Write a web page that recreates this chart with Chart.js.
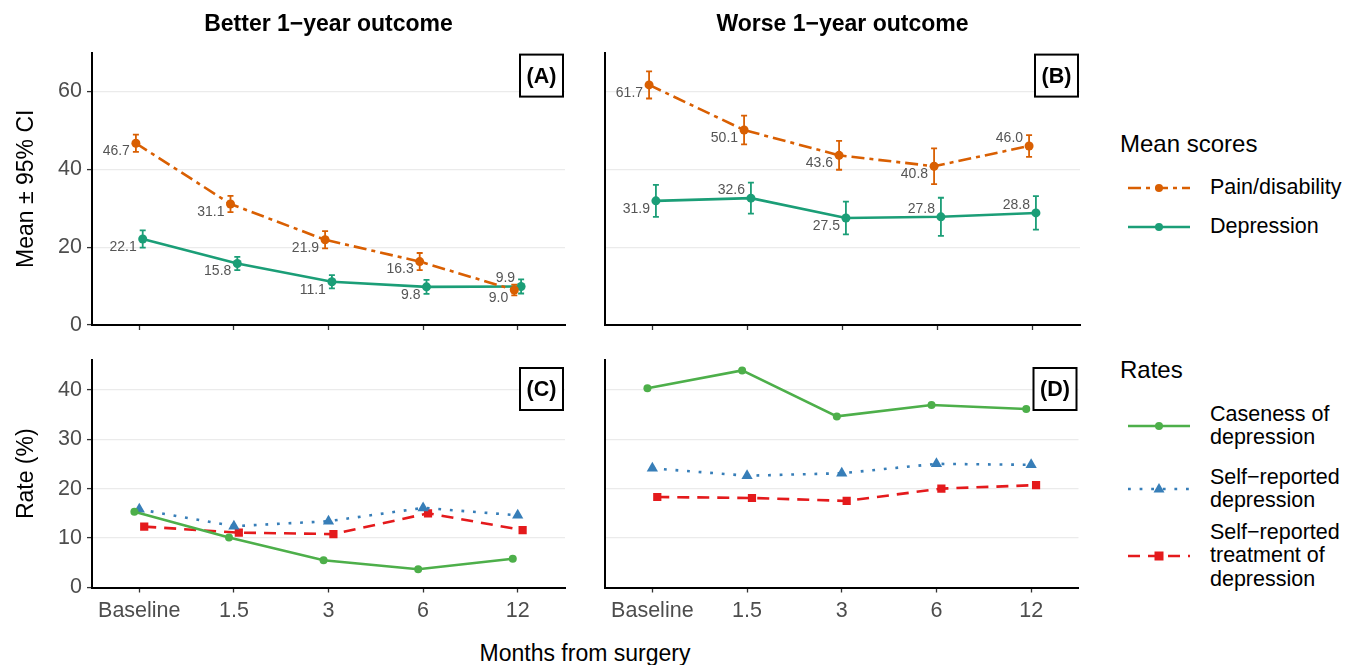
<!DOCTYPE html>
<html>
<head>
<meta charset="utf-8">
<script src="https://cdn.jsdelivr.net/npm/chart.js@4.4.1/dist/chart.umd.min.js"></script>
<style>
  body { margin: 0; background: #fff; width: 1345px; height: 665px; position: relative; overflow: hidden;
         font-family: "Liberation Sans", Arial, Helvetica, sans-serif; }
  canvas { position: absolute; }
  .txt { position: absolute; white-space: nowrap; color: #000; }
  .lgTitle { font-size: 24px; }
  .lgItem { font-size: 21.5px; line-height: 23.3px; }
  .lgKey { position: absolute; }
</style>
</head>
<body>
<canvas id="panelA" width="572" height="345" style="left:0;top:0"></canvas>
<canvas id="panelB" width="510" height="345" style="left:575px;top:0"></canvas>
<canvas id="panelC" width="572" height="292" style="left:0;top:340px"></canvas>
<canvas id="panelD" width="510" height="292" style="left:575px;top:340px"></canvas>

<div class="txt" id="xTitle" style="font-size:23px;left:0;width:1170px;text-align:center;top:640px">Months from surgery</div>

<div id="legend"></div>

<script>
// categories
const months = ["Baseline", "1.5", "3", "6", "12"];
const monthPos = [1, 2, 3, 4, 5];
const meanTicks = [0, 20, 40, 60];
const rateTicks = [0, 10, 20, 30, 40];

// (A) better outcome, mean scores and 95% CI half widths
const painBetter = [46.7, 31.1, 21.9, 16.3, 9.0];
const painBetterCI = [2.2, 2.1, 2.2, 2.2, 1.4];
const deprBetter = [22.1, 15.8, 11.1, 9.8, 9.9];
const deprBetterCI = [2.2, 1.7, 1.7, 1.8, 1.8];

// (B) worse outcome
const painWorse = [61.7, 50.1, 43.6, 40.8, 46.0];
const painWorseCI = [3.5, 3.7, 3.7, 4.6, 2.8];
const deprWorse = [31.9, 32.6, 27.5, 27.8, 28.8];
const deprWorseCI = [4.1, 4.0, 4.2, 4.9, 4.3];

// (C) better outcome, rates (%)
const casenessBetter = [15.3, 10.1, 5.5, 3.7, 5.8];
const selfDepBetter = [15.8, 12.4, 13.4, 16.1, 14.6];
const treatBetter = [12.3, 11.1, 10.8, 15.0, 11.6];

// (D) worse outcome, rates (%)
const casenessWorse = [40.3, 43.9, 34.6, 36.9, 36.1];
const selfDepWorse = [24.1, 22.6, 23.1, 25.0, 24.8];
const treatWorse = [18.3, 18.1, 17.5, 20.0, 20.7];

const FONT = '"Liberation Sans", Arial, Helvetica, sans-serif';
Chart.defaults.font.family = FONT;

const COL = {
  pain: "#d95f02",
  depr: "#1b9e77",
  case: "#4daf4a",
  self: "#377eb8",
  treat: "#e41a1c"
};
const DASH = {
  pain: [13, 5, 4, 5],
  self: [2.8, 8.8],
  treat: [12, 8]
};

function pts(values, dodge) {
  return values.map((v, i) => ({ x: monthPos[i] + dodge, y: v }));
}

function lineSet(values, dodge, color, extra) {
  return Object.assign({
    data: pts(values, dodge),
    borderColor: color,
    backgroundColor: color,
    pointBorderColor: color,
    pointBackgroundColor: color,
    borderWidth: 2.6,
    pointRadius: 4.5,
    pointBorderWidth: 0,
    tension: 0,
    fill: false
  }, extra || {});
}

// error bars from the ci arrays
const errorBars = {
  id: "errorBars",
  afterDatasetsDraw(chart) {
    const { ctx } = chart;
    const y = chart.scales.y;
    chart.data.datasets.forEach((ds, di) => {
      if (!ds.ci) return;
      const meta = chart.getDatasetMeta(di);
      ctx.save();
      ctx.strokeStyle = ds.borderColor;
      ctx.lineWidth = 1.8;
      ctx.setLineDash([]);
      meta.data.forEach((pt, i) => {
        const v = ds.data[i].y;
        const top = y.getPixelForValue(v + ds.ci[i]);
        const bot = y.getPixelForValue(v - ds.ci[i]);
        ctx.beginPath();
        ctx.moveTo(pt.x, top); ctx.lineTo(pt.x, bot);
        ctx.moveTo(pt.x - 3, top); ctx.lineTo(pt.x + 3, top);
        ctx.moveTo(pt.x - 3, bot); ctx.lineTo(pt.x + 3, bot);
        ctx.stroke();
      });
      ctx.restore();
    });
  }
};

// numeric labels next to mean points
const valueLabels = {
  id: "valueLabels",
  afterDatasetsDraw(chart) {
    const { ctx } = chart;
    chart.data.datasets.forEach((ds, di) => {
      if (!ds.labelSides) return;
      const meta = chart.getDatasetMeta(di);
      ctx.save();
      ctx.font = "14px " + FONT;
      ctx.fillStyle = "#555555";
      ctx.textAlign = "right";
      ctx.textBaseline = "middle";
      meta.data.forEach((pt, i) => {
        const dy = ds.labelSides[i] === "above" ? -8 : 8;
        ctx.fillText(ds.data[i].y.toFixed(1), pt.x - 6, pt.y + dy);
      });
      ctx.restore();
    });
  }
};

// boxed (A)/(B)/... tag in the top right corner
const panelTag = {
  id: "panelTag",
  afterDraw(chart, args, opts) {
    if (!opts.text) return;
    const { ctx, chartArea } = chart;
    const w = 43, h = 42;
    const x = chartArea.right - 2 - w;
    const y = chartArea.top + opts.inset;
    ctx.save();
    ctx.fillStyle = "#fff";
    ctx.fillRect(x, y, w, h);
    ctx.strokeStyle = "#000";
    ctx.lineWidth = 2;
    ctx.strokeRect(x, y, w, h);
    ctx.fillStyle = "#000";
    ctx.font = "bold 21.5px " + FONT;
    ctx.textAlign = "center";
    ctx.textBaseline = "middle";
    ctx.fillText(opts.text, x + w / 2, y + h / 2 + 1);
    ctx.restore();
  }
};

function makePanel(id, cfg) {
  return new Chart(document.getElementById(id), {
    type: "line",
    data: { datasets: cfg.datasets },
    options: {
      responsive: false,
      animation: false,
      events: [],
      layout: { padding: cfg.padding },
      plugins: {
        legend: { display: false },
        tooltip: { enabled: false },
        title: cfg.title
          ? { display: true, text: cfg.title, color: "#000", fullSize: false,
              font: { size: 23, weight: "bold" }, padding: { top: 11, bottom: 14 } }
          : { display: false },
        panelTag: { text: cfg.tag, inset: cfg.tagInset }
      },
      scales: {
        x: {
          type: "linear",
          min: 0.5,
          max: 5.5,
          afterBuildTicks: s => { s.ticks = monthPos.map(v => ({ value: v })); },
          afterFit: s => { s.height = cfg.xHeight; },
          border: { display: true, color: "#000", width: 2 },
          grid: { drawOnChartArea: false, drawTicks: true, tickLength: 5,
                  tickColor: "#333333", tickWidth: 1.3 },
          ticks: {
            display: cfg.showX,
            autoSkip: false,
            maxRotation: 0,
            color: "#4d4d4d",
            font: { size: 21.5 },
            padding: 6,
            callback: v => months[monthPos.indexOf(v)]
          }
        },
        y: {
          type: "linear",
          min: cfg.yMin,
          max: cfg.yMax,
          afterBuildTicks: s => { s.ticks = cfg.yTicks.map(v => ({ value: v })); },
          afterFit: s => { s.width = cfg.yWidth; },
          border: { display: true, color: "#000", width: 2 },
          grid: { color: "#ebebeb", lineWidth: 1.2, drawTicks: cfg.showY, tickLength: 5,
                  tickColor: "#333333", tickWidth: 1.3 },
          ticks: { display: cfg.showY, color: "#4d4d4d", font: { size: 21.5 }, padding: 5 },
          title: cfg.yTitle
            ? { display: true, text: cfg.yTitle, color: "#000", font: { size: 23 },
                padding: { top: 13, bottom: 0 } }
            : { display: false }
        }
      }
    },
    plugins: [errorBars, valueLabels, panelTag]
  });
}

const meanDodge = 0.036;
const rateDodge = 0.052;

makePanel("panelA", {
  title: "Better 1\u2212year outcome",
  tag: "(A)", tagInset: 2,
  yTitle: "Mean \u00b1 95% CI",
  yMin: 0, yMax: 70, yTicks: meanTicks, yWidth: 92, showY: true,
  xHeight: 20, showX: false,
  padding: { right: 7 },
  datasets: [
    lineSet(painBetter, -meanDodge, COL.pain, { borderDash: DASH.pain, ci: painBetterCI,
      labelSides: ["below", "below", "below", "below", "below"] }),
    lineSet(deprBetter, meanDodge, COL.depr, { ci: deprBetterCI,
      labelSides: ["below", "below", "below", "below", "above"] })
  ]
});

makePanel("panelB", {
  title: "Worse 1\u2212year outcome",
  tag: "(B)", tagInset: 2,
  yMin: 0, yMax: 70, yTicks: meanTicks, yWidth: 30, showY: false,
  xHeight: 20, showX: false,
  padding: { right: 5 },
  datasets: [
    lineSet(painWorse, -meanDodge, COL.pain, { borderDash: DASH.pain, ci: painWorseCI,
      labelSides: ["below", "below", "below", "below", "above"] }),
    lineSet(deprWorse, meanDodge, COL.depr, { ci: deprWorseCI,
      labelSides: ["below", "above", "below", "above", "above"] })
  ]
});

function rateSets(caseness, selfDep, treat) {
  return [
    lineSet(caseness, -rateDodge, COL.case, { pointRadius: 4 }),
    lineSet(selfDep, 0, COL.self, { borderDash: DASH.self, pointStyle: "triangle", pointRadius: 6.5 }),
    lineSet(treat, rateDodge, COL.treat, { borderDash: DASH.treat, pointStyle: "rect", pointRadius: 5.8 })
  ];
}

makePanel("panelC", {
  tag: "(C)", tagInset: 8,
  yTitle: "Rate (%)",
  yMin: 0, yMax: 46, yTicks: rateTicks, yWidth: 92, showY: true,
  xHeight: 44.5, showX: true,
  padding: { top: 20, right: 7 },
  datasets: rateSets(casenessBetter, selfDepBetter, treatBetter)
});

makePanel("panelD", {
  tag: "(D)", tagInset: 8,
  yMin: 0, yMax: 46, yTicks: rateTicks, yWidth: 30, showY: false,
  xHeight: 44.5, showX: true,
  padding: { top: 20, right: 5 },
  datasets: rateSets(casenessWorse, selfDepWorse, treatWorse)
});

// legend (HTML text, SVG keys)
const legendGroups = [
  { title: "Mean scores", top: 130, items: [
    { lines: ["Pain/disability"], color: COL.pain, dash: DASH.pain, marker: "circle", keyY: 188 },
    { lines: ["Depression"], color: COL.depr, dash: null, marker: "circle", keyY: 227 }
  ]},
  { title: "Rates", top: 356, items: [
    { lines: ["Caseness of", "depression"], color: COL.case, dash: null, marker: "circle", keyY: 426 },
    { lines: ["Self\u2212reported", "depression"], color: COL.self, dash: DASH.self, marker: "triangle", keyY: 489 },
    { lines: ["Self\u2212reported", "treatment of", "depression"], color: COL.treat, dash: DASH.treat, marker: "rect", keyY: 556 }
  ]}
];

function keySvg(item) {
  const w = 62, h = 20, cx = 31, cy = 10;
  let mk = "";
  if (item.marker === "circle") mk = `<circle cx="${cx}" cy="${cy}" r="4" fill="${item.color}"/>`;
  if (item.marker === "triangle") mk = `<polygon points="${cx},${cy - 6} ${cx + 5.5},${cy + 3.5} ${cx - 5.5},${cy + 3.5}" fill="${item.color}"/>`;
  if (item.marker === "rect") mk = `<rect x="${cx - 4.5}" y="${cy - 4.5}" width="9" height="9" fill="${item.color}"/>`;
  const dash = item.dash ? `stroke-dasharray="${item.dash.join(" ")}"` : "";
  return `<svg width="${w}" height="${h}" viewBox="0 0 ${w} ${h}"><line x1="0" y1="${cy}" x2="${w}" y2="${cy}" stroke="${item.color}" stroke-width="2.6" ${dash}/>${mk}</svg>`;
}

const lg = document.getElementById("legend");
legendGroups.forEach(g => {
  const t = document.createElement("div");
  t.className = "txt lgTitle";
  t.style.left = "1120px";
  t.style.top = g.top + "px";
  t.textContent = g.title;
  lg.appendChild(t);
  g.items.forEach(it => {
    const k = document.createElement("div");
    k.className = "lgKey";
    k.style.left = "1128px";
    k.style.top = (it.keyY - 10) + "px";
    k.innerHTML = keySvg(it);
    lg.appendChild(k);
    const tx = document.createElement("div");
    tx.className = "txt lgItem";
    tx.style.left = "1210px";
    tx.style.top = (it.keyY - it.lines.length * 23.3 / 2) + "px";
    tx.innerHTML = it.lines.join("<br>");
    lg.appendChild(tx);
  });
});
</script>
</body>
</html>
